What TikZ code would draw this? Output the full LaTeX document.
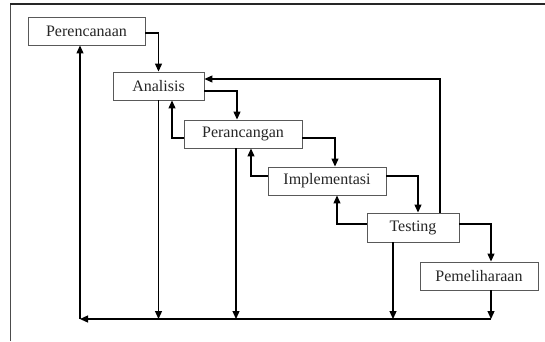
\documentclass[tikz,border=0pt]{standalone}
\usepackage{fontspec}
\setmainfont{Liberation Serif}
\usetikzlibrary{arrows.meta}
\begin{document}
\begin{tikzpicture}[x=1pt,y=-1pt,
  box/.style={draw=black!65, line width=0.9pt, fill=white, inner sep=0pt,
    minimum height=28pt, font=\fontsize{16}{18}\selectfont, text=black!85},
  arr/.style={draw=black, line width=1.2pt, -{Triangle[length=8pt,width=7pt]}},
  ln/.style={draw=black, line width=1.2pt}]
\useasboundingbox (0,0) rectangle (545,341);
\draw[black!70, line width=1pt] (10,341) -- (10,4);
\draw[black!85, line width=1.4pt] (10,4) -- (545,4);

\node[box, minimum width=117pt] (per) at (86.5,31) {Perencanaan};
\node[box, minimum width=91pt]  (ana) at (158.5,86) {Analisis};
\node[box, minimum width=118pt] (pcg) at (243,134) {Perancangan};
\node[box, minimum width=118pt] (imp) at (327,181) {Implementasi};
\node[box, minimum width=92pt, minimum height=29pt] (tst) at (413,227.5) {Testing};
\node[box, minimum width=118pt] (pml) at (479,276) {Pemeliharaan};

\coordinate (bl) at (80,319);
\coordinate (br) at (491,319);

% forward flow
\draw[arr] ([yshift=-2pt]per.east) -| (ana.north);
\draw[arr] ([yshift=-5pt]ana.east) -| ([xshift=-6pt]pcg.north);
\draw[arr] ([yshift=-4pt]pcg.east) -| ([xshift=8pt]imp.north);
\draw[arr] ([yshift=5pt]imp.east) -| ([xshift=5pt]tst.north);
\draw[arr] ([yshift=3.5pt]tst.east) -| ([xshift=12pt]pml.north);

% feedback
\draw[arr] ([yshift=-4pt]pcg.west) -| ([xshift=13.5pt]ana.south);
\draw[arr] ([yshift=5pt]imp.west) -| ([xshift=8pt]pcg.south);
\draw[arr] ([yshift=3.5pt]tst.west) -| ([xshift=10pt]imp.south);
\draw[arr] ([xshift=27pt]tst.north) |- ([yshift=7pt]ana.east);

% down to bottom line
\draw[arr] (ana.south) -- (ana.south |- bl);
\draw[arr] ([xshift=-7pt]pcg.south) -- ([xshift=-7pt]pcg.south |- bl);
\draw[arr] ([xshift=-20pt]tst.south) -- ([xshift=-20pt]tst.south |- bl);
\draw[arr] ([xshift=12pt]pml.south) -- (br);

% return line
\draw[arr] (br) -- (bl);
\draw[arr] (bl) -- (bl |- per.south);
\end{tikzpicture}
\end{document}
